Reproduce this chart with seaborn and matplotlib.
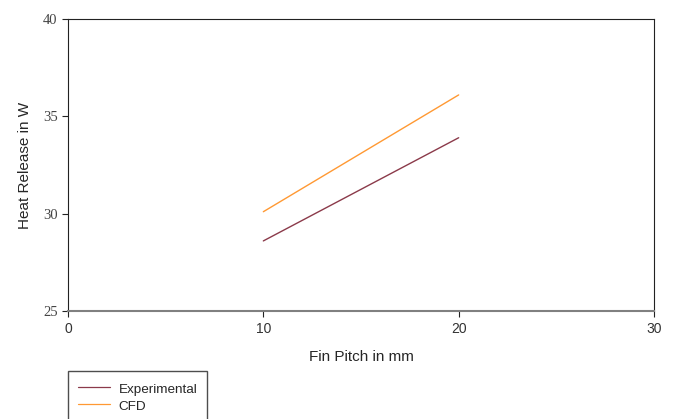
import pandas as pd
import matplotlib
matplotlib.use("Agg")
import matplotlib.pyplot as plt
import seaborn as sns

# =========================
# DATA
# =========================
fin_pitch = [10, 20]
experimental = [28.6, 33.9]
cfd = [30.1, 36.1]
series_names = ["Experimental", "CFD"]
colors = ["#8B3A4A", "#FF9933"]

df = pd.DataFrame({
    "Fin Pitch": fin_pitch * 2,
    "Heat": experimental + cfd,
    "Series": [series_names[0]] * 2 + [series_names[1]] * 2,
})

sns.set_style("white")
plt.rcParams["font.family"] = ["Liberation Sans", "DejaVu Sans"]

fig = plt.figure(figsize=(6.75, 4.19), dpi=100)
ax = fig.add_axes([68 / 675, 1 - 311 / 419, (654 - 68) / 675, (311 - 19) / 419])

sns.lineplot(data=df, x="Fin Pitch", y="Heat", hue="Series",
             palette=colors, linewidth=1.0, ax=ax, legend=False)

ax.set_xlim(0, 30)
ax.set_ylim(25, 40)
ax.set_xticks([0, 10, 20, 30])
ax.set_yticks([25, 30, 35, 40])
ax.set_xlabel("Fin Pitch in mm", fontsize=11, labelpad=10)
ax.set_ylabel("Heat Release in W", fontsize=11, labelpad=8)

ax.tick_params(axis="both", direction="out", length=4, width=0.8,
               colors="#222222", labelsize=10, bottom=True, left=True)
ax.tick_params(axis="x", pad=4)
for lab in ax.get_yticklabels():
    lab.set_family(["Liberation Serif", "DejaVu Serif"])
    lab.set_color("#444444")
    lab.set_fontsize(10.5)
for lab in ax.get_xticklabels():
    lab.set_color("#333333")

for s in ["top", "right", "left"]:
    ax.spines[s].set_color("#222222")
    ax.spines[s].set_linewidth(0.8)
    ax.spines[s].set_visible(True)
ax.spines["bottom"].set_color("#808080")
ax.spines["bottom"].set_linewidth(1.5)

# legend below the plot, frame runs off the bottom edge
handles = [plt.Line2D([], [], color=c, lw=0.9) for c in colors]
fig.legend(handles, series_names, loc="upper left",
           bbox_to_anchor=(68 / 675, 1 - 371 / 419),
           fontsize=9.7, frameon=True, fancybox=False, edgecolor="#222222",
           handlelength=2.4, handleheight=1.2, handletextpad=0.6,
           borderpad=0.75, borderaxespad=0, labelspacing=0.2)

fig.savefig("out.png", dpi=100)
